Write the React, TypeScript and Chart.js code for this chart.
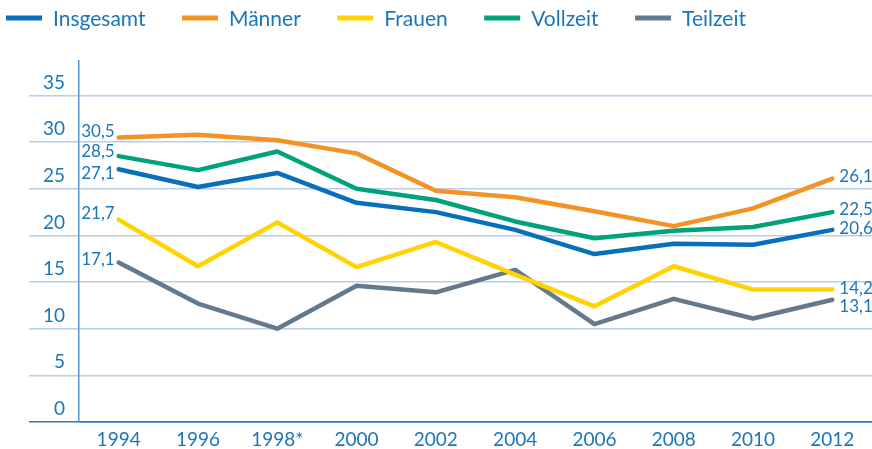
import React, { useEffect, useRef } from 'react';
import { Chart, registerables } from 'chart.js';

Chart.register(...registerables);

const years = ['1994', '1996', '1998*', '2000', '2002', '2004', '2006', '2008', '2010', '2012'];
const insgesamt = [27.1, 25.2, 26.7, 23.5, 22.5, 20.6, 18.0, 19.1, 19.0, 20.6];
const maenner = [30.5, 30.8, 30.2, 28.8, 24.8, 24.1, 22.6, 21.0, 22.9, 26.1];
const frauen = [21.7, 16.7, 21.4, 16.6, 19.3, 15.8, 12.4, 16.7, 14.2, 14.2];
const vollzeit = [28.5, 27.0, 29.0, 25.0, 23.8, 21.5, 19.7, 20.5, 20.9, 22.5];
const teilzeit = [17.1, 12.7, 10.0, 14.6, 13.9, 16.3, 10.5, 13.2, 11.1, 13.1];
const seriesNames = ['Insgesamt', 'Männer', 'Frauen', 'Vollzeit', 'Teilzeit'];
const yTicks = [0, 5, 10, 15, 20, 25, 30, 35];

const COLORS = ['#0a6fba', '#f39325', '#ffd200', '#00a27a', '#647a8c'];
const TEXT = '#1b75bb';
const GRID = '#b9cfe9';
const AXIS_Y = '#5a95cf';
const AXIS_X = '#2a78c2';
const FONT = 'Lato';

// label placement tweaks (px) for end-point value labels
const leftDy = [4.5, -6, -6.5, -5, -2.5];
const rightDy = [-1, -2, -1, -3, 7];

const fmt = (v: number) => v.toFixed(1).replace('.', ',');

const endLabels = {
  id: 'endLabels',
  afterDatasetsDraw(chart: any) {
    const ctx = chart.ctx;
    ctx.save();
    ctx.font = `17px ${FONT}`;
    ctx.fillStyle = TEXT;
    ctx.textBaseline = 'middle';
    chart.data.datasets.forEach((ds: any, i: number) => {
      const meta = chart.getDatasetMeta(i);
      const first = meta.data[0];
      const last = meta.data[meta.data.length - 1];
      ctx.textAlign = 'right';
      ctx.fillText(fmt(ds.data[0]), first.x - 4, first.y + leftDy[i]);
      ctx.textAlign = 'left';
      ctx.fillText(fmt(ds.data[ds.data.length - 1]), last.x + 7, last.y + rightDy[i]);
    });
    ctx.restore();
  },
};

const topLegend = {
  id: 'topLegend',
  afterDraw(chart: any) {
    const ctx = chart.ctx;
    ctx.save();
    ctx.font = `21px ${FONT}`;
    let x = 6;
    const y = 18;
    chart.data.datasets.forEach((ds: any) => {
      ctx.fillStyle = ds.borderColor;
      ctx.fillRect(x, y - 2.5, 36, 5);
      x += 36 + 11;
      ctx.fillStyle = TEXT;
      ctx.textAlign = 'left';
      ctx.textBaseline = 'alphabetic';
      ctx.fillText(ds.label, x, y + 8);
      x += ctx.measureText(ds.label).width + 36.5;
    });
    ctx.restore();
  },
};

export default function App() {
  const ref = useRef<HTMLCanvasElement | null>(null);

  useEffect(() => {
    document.body.style.margin = '0';
    const seriesData = [insgesamt, maenner, frauen, vollzeit, teilzeit];
    const chart = new Chart(ref.current as HTMLCanvasElement, {
      type: 'line',
      data: {
        labels: years,
        datasets: seriesNames.map((name, i) => ({
          label: name,
          data: seriesData[i],
          borderColor: COLORS[i],
          backgroundColor: COLORS[i],
          borderWidth: 4.5,
          pointRadius: 0,
          tension: 0,
          borderCapStyle: 'round',
          borderJoinStyle: 'round',
          fill: false,
        })),
      },
      options: {
        responsive: false,
        animation: false,
        layout: { padding: { top: 61, left: 0, right: -3, bottom: 0 } },
        plugins: {
          legend: { display: false },
          tooltip: { enabled: false },
        },
        scales: {
          x: {
            offset: true,
            grid: { display: false, drawTicks: false },
            border: { color: AXIS_X, width: 1.5 },
            ticks: {
              padding: 6,
              color: TEXT,
              font: { family: FONT, size: 19 },
              maxRotation: 0,
              autoSkip: false,
            },
            afterFit: (s: any) => {
              s.height = 27;
            },
          },
          y: {
            min: 0,
            max: 38.7,
            afterBuildTicks: (s: any) => {
              s.ticks = yTicks.map((v) => ({ value: v }));
            },
            afterFit: (s: any) => {
              s.width = 79;
            },
            grid: {
              color: (c: any) => (c.tick && c.tick.value === 0 ? AXIS_X : GRID),
              lineWidth: 1.5,
              tickLength: 50,
            },
            border: { color: AXIS_Y, width: 1.5 },
            ticks: {
              padding: -36,
              labelOffset: -13,
              color: TEXT,
              font: { family: FONT, size: 19 },
            },
          },
        },
      },
      plugins: [endLabels, topLegend],
    });
    return () => chart.destroy();
  }, []);

  return (
    <div style={{ width: 872, height: 449 }}>
      <canvas ref={ref} width={872} height={449} style={{ display: 'block' }} />
    </div>
  );
}
